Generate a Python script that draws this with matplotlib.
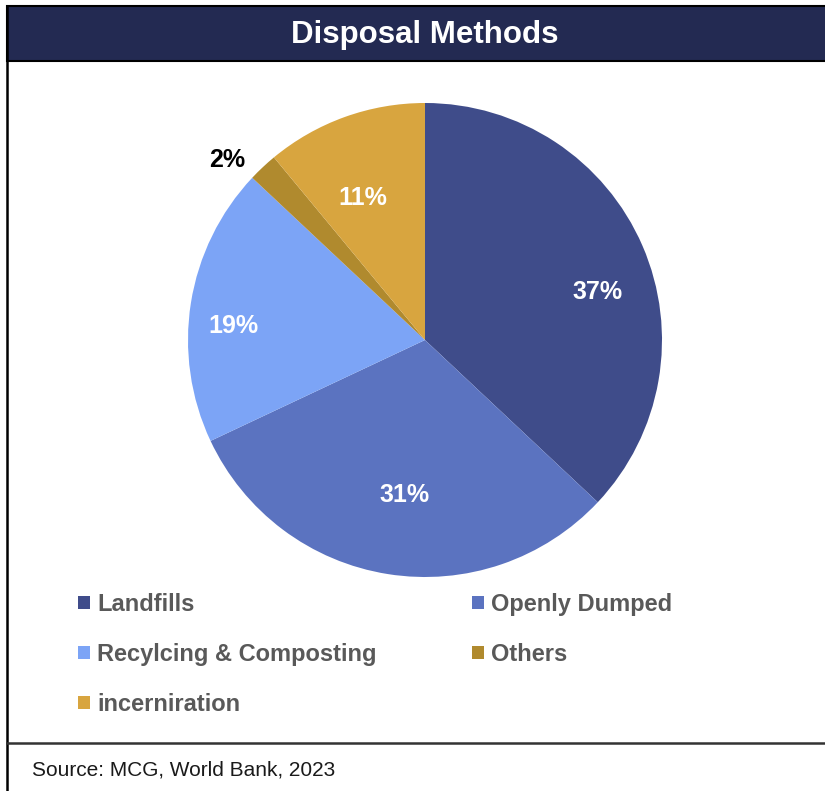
"""Disposal Methods pie chart recreated with matplotlib."""
import numpy as np
import matplotlib

matplotlib.use("Agg")
import matplotlib.pyplot as plt
from matplotlib.patches import Rectangle, Patch

plt.rcParams["font.family"] = ["Liberation Sans", "DejaVu Sans"]

# data
methods = ["Landfills", "Openly Dumped", "Recylcing & Composting", "Others", "incerniration"]
shares = [37, 31, 19, 2, 11]
colors = ["#3F4C8A", "#5B73C0", "#7CA4F6", "#B08A2E", "#D8A53F"]
label_colors = ["white", "white", "white", "black", "white"]
# label placement as (radius fraction, angle nudge in degrees) -- mimics Excel best fit
label_place = [(0.755, -7.8), (0.66, 1.6), (0.81, 4.8), (1.13, 4.5), (0.655, 3.8)]

W, H = 825, 791
NAVY, INK, GREY = "#232A52", "#1A1A1A", "#595959"

fig = plt.figure(figsize=(W / 100, H / 100), dpi=100)
fig.patch.set_facecolor("white")
ax = fig.add_axes([0, 0, 1, 1])

cx, cy, r = 425, H - 340, 237
wedges, _ = ax.pie(shares, colors=colors, startangle=90, counterclock=False,
                   center=(cx, cy), radius=r, wedgeprops=dict(linewidth=0))

for w, pct, col, (rf, nudge) in zip(wedges, shares, label_colors, label_place):
    ang = np.deg2rad((w.theta1 + w.theta2) / 2 + nudge)
    ax.text(cx + rf * r * np.cos(ang), cy + rf * r * np.sin(ang), f"{pct}%",
            ha="center", va="center", fontsize=18, fontweight="bold", color=col)

ax.set_xlim(0, W)
ax.set_ylim(0, H)
ax.set_aspect("auto")
ax.axis("off")

# frame: header band, left rule, source rule
ax.add_patch(Rectangle((7, H - 61), W, 55, facecolor=NAVY, edgecolor="black", linewidth=1.5))
ax.plot([7, 7], [0, H - 6], color="black", lw=1.8)
ax.plot([7, W], [H - 743, H - 743], color="#333333", lw=1.8)
ax.text(425, H - 35, "Disposal Methods", ha="center", va="center",
        fontsize=22.5, fontweight="bold", color="white")
ax.text(32, H - 770, "Source: MCG, World Bank, 2023", ha="left", va="center",
        fontsize=15, color=INK)

# legend filled row by row: reorder for matplotlib's column-first layout
order = [0, 2, 4, 1, 3]
handles = [Patch(facecolor=colors[i], edgecolor="none") for i in order]
leg = ax.legend(handles, [methods[i] for i in order], ncol=2, loc="upper left",
                bbox_to_anchor=(78 / W, (H - 593) / H), bbox_transform=fig.transFigure,
                frameon=False, borderpad=0, borderaxespad=0, handlelength=0.5,
                handleheight=0.5, handletextpad=0.3, labelspacing=1.14,
                columnspacing=4.07, prop=dict(size=17, weight="bold"))
for t in leg.get_texts():
    t.set_color(GREY)

fig.savefig("out.png", dpi=100)
